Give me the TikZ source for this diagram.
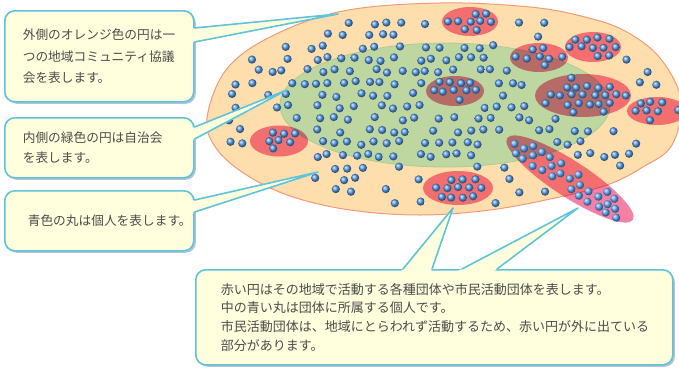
\documentclass[tikz,border=0pt]{standalone}
\usepackage{fontspec}
\newfontfamily\jp{Noto Sans CJK JP}
\usetikzlibrary{shadows,calc}
\definecolor{boxfill}{RGB}{255,255,222}
\definecolor{boxline}{RGB}{95,195,218}
\definecolor{orfill}{RGB}{253,222,172}
\definecolor{orline}{RGB}{240,155,120}
\definecolor{grfill}{RGB}{190,215,160}
\definecolor{grline}{RGB}{172,204,144}
\definecolor{rdfill}{RGB}{245,128,165}
\definecolor{dotc}{RGB}{85,155,235}
\definecolor{txt}{RGB}{75,75,75}
\definecolor{shad}{RGB}{150,170,190}
\tikzset{
  callout/.style={draw=boxline, line width=1.6pt, fill=boxfill, rounded corners=10pt,
    drop shadow={shadow xshift=2pt, shadow yshift=-2pt, fill=shad, opacity=0.7},
    anchor=north west, align=left, text=txt, inner ysep=0pt},
  jpa/.style={font=\jp\fontsize{12.7}{21.5}\selectfont},
  wedgefill/.style={fill=boxfill},
  wedgeline/.style={draw=boxline, line width=1.6pt, line join=round, line cap=round},
  dot/.style={ball color=dotc},
  redpatch/.style={fill=rdfill},
  declare function={ine(\xa,\ya,\xc,\yc,\ra,\rb)=(((\xa-\xc)/\ra)^2+((\ya-\yc)/\rb)^2<1);}
}
\newcommand\redgrp[5]{%
  \begin{scope}[shift={(#1,#2)}, rotate=#5]
    \begin{scope}[blend mode=multiply]
      \fill[redpatch] (0,0) ellipse [x radius=#3, y radius=#4];
    \end{scope}
    \foreach \k in {-2,...,2}{
      \foreach \m in {-7,...,7}{
        \pgfmathsetmacro\gx{\m*11+mod(abs(\k),2)*5.5+(rnd-0.5)*3}
        \pgfmathsetmacro\gy{\k*8.5+(rnd-0.5)*2.5}
        \pgfmathtruncatemacro\ok{((\gx/(#3-4.5))^2+(\gy/(#4-3))^2<1) && (rnd<0.88)}
        \ifnum\ok=1 \shade[dot] (\gx,\gy) circle (4.1); \fi
      }
    }
  \end{scope}}
\begin{document}
\begin{tikzpicture}[x=1pt,y=-1pt]
\useasboundingbox (0,0) rectangle (679,367);
\clip (0,0) rectangle (679,367);
% outer orange region
\draw[orline, fill=orfill, line width=1pt] plot[smooth cycle, tension=0.6] coordinates
 {(207,118) (226,70) (270,37) (343,11) (440,3) (530,7) (585,17) (625,31) (660,58) (681,100)
  (672,145) (643,167) (607,185) (555,198) (490,210) (420,215) (350,210) (290,196) (245,174) (216,148)};
% inner green region
\draw[grline, fill=grfill, line width=0.8pt] (445,105) ellipse [x radius=165, y radius=62];
% free individuals
\pgfmathsetseed{11}
\foreach \i in {0,...,36}{
  \foreach \j in {0,...,16}{
    \pgfmathsetmacro\px{212+\i*13+mod(\j,2)*6.5+(rnd-0.5)*5}
    \pgfmathsetmacro\py{11+\j*12+(rnd-0.5)*4}
    \pgfmathsetmacro\eo{((\px-445)/228)^2+((\py-110)/97)^2}
    \pgfmathsetmacro\eg{((\px-445)/165)^2+((\py-105)/62)^2}
    \pgfmathtruncatemacro\nr{ine(\px,\py,470,21,34,20)+ine(\px,\py,539,57,35,20)+ine(\px,\py,593,47,34,21)+ine(\px,\py,455,91,35,21)+ine(\px,\py,583,95,54,27)+ine(\px,\py,657,111,35,20)+ine(\px,\py,279,141,35,21)+ine(\px,\py,458,188,41,23)+((((\px-570)*0.8387+(\py-179)*0.5446)/82)^2+(((\py-179)*0.8387-(\px-570)*0.5446)/24)^2<1)}
    \pgfmathsetmacro\pk{\eg<1 ? 0.75 : 0.45}
    \pgfmathtruncatemacro\ok{(\eo<1)&&(\nr==0)&&(rnd<\pk)&&(!((\px<305)&&(\py>158)))}
    \ifnum\ok=1 \shade[dot] (\px,\py) circle (4.1); \fi
  }
}
% groups
\pgfmathsetseed{5}
\redgrp{470}{21.5}{28}{14.5}{0}
\redgrp{539}{57.5}{29}{14.5}{0}
\redgrp{593}{47}{28}{15}{0}
\redgrp{455}{91}{29}{15}{0}
\redgrp{583}{95.5}{48}{21.5}{0}
\redgrp{657}{111}{30}{14}{0}
\redgrp{279}{141}{29}{15.5}{0}
\redgrp{458}{188}{35}{17}{0}
\redgrp{570}{179}{75}{18}{-33}
% callout boxes
\node[callout, jpa, minimum width=189pt, minimum height=91pt, text width=153pt, inner xsep=18pt] (b1) at (4,10)
  {外側のオレンジ色の円は一\\つの地域コミュニティ協議\\会を表します。};
\node[callout, font=\jp\fontsize{12.7}{20}\selectfont, minimum width=189pt, minimum height=60pt, text width=153pt, inner xsep=18pt] (b2) at (4,117)
  {内側の緑色の円は自治会\\を表します。};
\node[callout, jpa, minimum width=189pt, minimum height=60pt, text width=143pt, inner xsep=23pt] (b3) at (4,190)
  {青色の丸は個人を表します。};
\node[callout, font=\jp\fontsize{13}{18.7}\selectfont, minimum width=477pt, minimum height=95pt, text width=427pt, inner xsep=25pt] (b4) at (195,269)
  {赤い円はその地域で活動する各種団体や市民活動団体を表します。\\中の青い丸は団体に所属する個人です。\\市民活動団体は、地域にとらわれず活動するため、赤い円が外に出ている\\部分があります。};
% pointer wedges
\coordinate (t1) at (338,14);
\coordinate (a1) at ($(b1.north east)+(0,18)$);
\coordinate (c1) at ($(b1.north east)+(0,32)$);
\coordinate (t2) at (287,90);
\coordinate (a2) at ($(b2.north east)+(0,10)$);
\coordinate (c2) at ($(b2.north east)+(0,22)$);
\coordinate (t3) at (318,172);
\coordinate (a3) at ($(b3.north east)+(0,10)$);
\coordinate (c3) at ($(b3.north east)+(0,22)$);
\coordinate (t4) at (453,208);
\coordinate (a4) at ($(b4.north west)+(208,0)$);
\coordinate (c4) at ($(b4.north west)+(237,0)$);
\coordinate (t5) at (578,208);
\coordinate (a5) at ($(b4.north west)+(267,0)$);
\coordinate (c5) at ($(b4.north west)+(302,0)$);
\foreach \n in {1,...,5}{
  \fill[wedgefill] (t\n) -- ($(t\n)!1.06!(a\n)$) -- ($(t\n)!1.06!(c\n)$) -- cycle;
  \draw[wedgeline] (a\n) -- (t\n) -- (c\n);
}
\end{tikzpicture}
\end{document}
